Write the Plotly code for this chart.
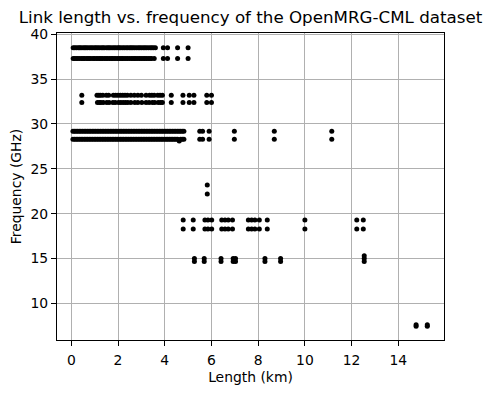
import plotly.graph_objects as go

# Link lengths (km) per frequency row (GHz)
band_385 = [0.08, 0.15, 0.22, 0.3, 0.36, 0.42, 0.5, 0.57, 0.63, 0.7, 0.78, 0.85, 0.92, 1.0,
            1.06, 1.13, 1.2, 1.28, 1.35, 1.41, 1.5, 1.57, 1.63, 1.7, 1.78, 1.85, 1.92, 2.0,
            2.05, 2.12, 2.2, 2.27, 2.35, 2.42, 2.5, 2.56, 2.63, 2.7, 2.78, 2.86, 2.93, 3.0,
            3.08, 3.15, 3.22, 3.3, 3.38, 3.45, 3.52, 3.6, 3.94, 4.12, 4.55, 5.0]
band_373 = [0.08, 0.14, 0.21, 0.28, 0.35, 0.43, 0.5, 0.56, 0.64, 0.71, 0.77, 0.84, 0.93, 0.99,
            1.07, 1.14, 1.21, 1.27, 1.34, 1.42, 1.49, 1.56, 1.64, 1.71, 1.77, 1.84, 1.91, 1.99,
            2.06, 2.13, 2.19, 2.26, 2.34, 2.41, 2.49, 2.57, 2.64, 2.71, 2.77, 2.85, 2.92, 2.99,
            3.07, 3.14, 3.21, 3.29, 3.37, 3.44, 3.55, 3.94, 4.12, 4.55, 5.0]
row_332 = [0.45, 1.1, 1.18, 1.25, 1.35, 1.5, 1.6, 1.8, 1.9, 2.0, 2.1, 2.2, 2.3, 2.4, 2.55,
           2.7, 2.85, 3.0, 3.2, 3.35, 3.45, 3.55, 3.7, 3.8, 3.9, 4.28, 4.78, 5.05, 5.25, 5.8, 6.0]
row_324 = [0.45, 1.12, 1.2, 1.27, 1.37, 1.52, 1.62, 1.78, 1.88, 2.02, 2.12, 2.22, 2.32, 2.42,
           2.55, 2.72, 2.85, 3.02, 3.2, 3.33, 3.47, 3.57, 3.72, 3.82, 3.9, 4.28, 4.78, 5.05,
           5.25, 5.8, 6.0]
band_292 = [0.07, 0.13, 0.2, 0.27, 0.34, 0.41, 0.48, 0.55, 0.62, 0.69, 0.76, 0.83, 0.9, 0.97,
            1.04, 1.11, 1.18, 1.25, 1.32, 1.39, 1.46, 1.53, 1.6, 1.67, 1.74, 1.81, 1.88, 1.95,
            2.02, 2.09, 2.16, 2.23, 2.3, 2.37, 2.44, 2.51, 2.58, 2.65, 2.72, 2.79, 2.86, 2.93,
            3.0, 3.07, 3.14, 3.21, 3.28, 3.35, 3.42, 3.49, 3.56, 3.63, 3.7, 3.77, 3.84, 3.91,
            3.98, 4.05, 4.12, 4.19, 4.26, 4.33, 4.4, 4.47, 4.54, 4.61, 4.68, 4.75, 4.82,
            5.5, 5.62, 5.9, 6.98, 8.69, 11.15]
band_283 = [0.07, 0.14, 0.21, 0.28, 0.35, 0.42, 0.49, 0.56, 0.63, 0.7, 0.77, 0.84, 0.91, 0.98,
            1.05, 1.12, 1.19, 1.26, 1.33, 1.4, 1.47, 1.54, 1.61, 1.68, 1.75, 1.82, 1.89, 1.96,
            2.03, 2.1, 2.17, 2.24, 2.31, 2.38, 2.45, 2.52, 2.59, 2.66, 2.73, 2.8, 2.87, 2.94,
            3.01, 3.08, 3.15, 3.22, 3.29, 3.36, 3.43, 3.5, 3.57, 3.64, 3.71, 3.78, 3.85, 3.92,
            3.99, 4.06, 4.13, 4.2, 4.27, 4.34, 4.41, 4.48, 4.55, 4.68, 4.75, 4.82,
            5.5, 5.62, 5.9, 6.98, 8.69, 11.15]
low_281 = [4.62]
row_232 = [5.82]
row_222 = [5.82]
row_193 = [4.79, 5.22, 5.72, 5.85, 6.01, 6.44, 6.58, 6.72, 6.9, 7.58, 7.72, 7.86, 8.05, 8.39,
           10.0, 12.22, 12.5]
row_183 = [4.79, 5.22, 5.72, 5.85, 6.01, 6.44, 6.58, 6.72, 6.9, 7.58, 7.72, 7.86, 8.05, 8.39,
           10.0, 12.22, 12.5]
row_153 = [12.54]
row_150 = [5.27, 5.69, 6.41, 6.93, 7.03, 8.29, 8.96, 12.54]
row_147 = [5.27, 5.69, 6.41, 6.93, 7.03, 8.29, 8.96, 12.54]
row_076 = [14.76, 15.24]
row_074 = [14.76, 15.24]

rows = [
    (38.5, band_385), (37.3, band_373), (33.2, row_332), (32.4, row_324),
    (29.2, band_292), (28.3, band_283), (28.1, low_281), (23.2, row_232),
    (22.2, row_222), (19.3, row_193), (18.3, row_183), (15.3, row_153),
    (15.0, row_150), (14.65, row_147), (7.6, row_076), (7.45, row_074),
]

lengths = []
freqs = []
for f, xs in rows:
    lengths.extend(xs)
    freqs.extend([f] * len(xs))

font_family = "DejaVu Sans"

fig = go.Figure(go.Scatter(
    x=lengths, y=freqs, mode="markers",
    marker=dict(color="black", size=5, line=dict(width=0)),
))

axis_common = dict(
    showgrid=True, gridcolor="#b0b0b0", gridwidth=0.8,
    showline=True, linecolor="black", linewidth=1, mirror=True,
    ticks="outside", ticklen=5, tickcolor="black", tickwidth=1,
    zeroline=False, automargin=False,
    tickfont=dict(family=font_family, size=13.9, color="black"),
    title_font=dict(family=font_family, size=13.9, color="black"),
)

# page has an 8px body margin; the figure is sized to fit the window from there
fig.update_layout(
    width=483, height=385,
    margin=dict(l=49, r=47, t=25, b=53),
    paper_bgcolor="white", plot_bgcolor="white",
    showlegend=False,
    title=dict(
        text="Link length vs. frequency of the OpenMRG-CML dataset",
        x=0.5, xref="paper", xanchor="center",
        y=1 - 9 / 385, yref="container", yanchor="middle",
        font=dict(family=font_family, size=16.7, color="black"),
    ),
    xaxis=dict(range=[-0.612, 15.955], tickmode="array",
               tickvals=[0, 2, 4, 6, 8, 10, 12, 14], ticklabelstandoff=2,
               title=dict(text="Length (km)", standoff=5), **axis_common),
    yaxis=dict(range=[5.907, 40.145], tickmode="array",
               tickvals=[10, 15, 20, 25, 30, 35, 40],
               title=dict(text="Frequency (GHz)", standoff=6), **axis_common),
)

fig.write_html("out.html")
